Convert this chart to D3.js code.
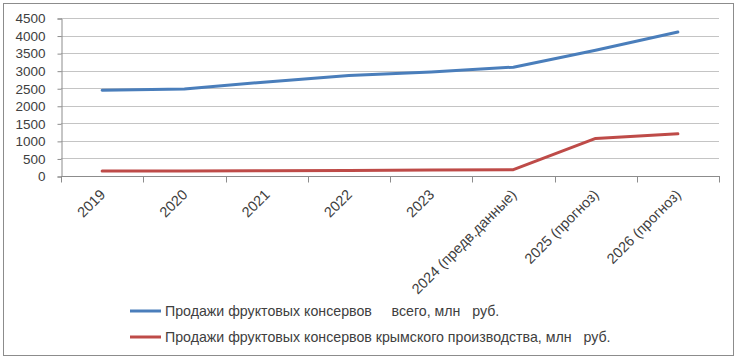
<!DOCTYPE html>
<html>
<head>
<meta charset="utf-8">
<script src="https://cdn.jsdelivr.net/npm/d3@7"></script>
<style>
  body { margin: 0; background: #fff; }
  text { font-family: "Liberation Sans", Arial, sans-serif; fill: #404040; }
</style>
</head>
<body>
<div id="chart"></div>
<script>
// categories and series
const years = ['2019', '2020', '2021', '2022', '2023', '2024 (предв.данные)', '2025 (прогноз)', '2026 (прогноз)']
const salesTotal = [2440, 2480, 2680, 2860, 2960, 3100, 3580, 4100]
const salesCrimea = [140, 140, 150, 160, 170, 180, 1070, 1200]
const yTicks = [0, 500, 1000, 1500, 2000, 2500, 3000, 3500, 4000, 4500]
const legendLabels = [
    'Продажи фруктовых консервов     всего, млн   руб.',
    'Продажи фруктовых консервов крымского производства, млн   руб.'
]
const colors = ['#4a7ebb', '#be4b48']

const width = 738
const height = 359
const plot = { left: 61, right: 719, top: 18, bottom: 176 }

const svg = d3.create('svg')
    .attr('width', width)
    .attr('height', height)

/* outer frame */
svg.append('rect')
    .attr('x', 3.5).attr('y', 3.5)
    .attr('width', 730).attr('height', 352)
    .attr('fill', '#fff')
    .attr('stroke', '#8c8c8c')

const x = d3.scaleBand()
    .domain(years)
    .range([plot.left, plot.right])

const y = d3.scaleLinear()
    .domain([0, 4500])
    .range([plot.bottom, plot.top])

/* gridlines */
svg.append('g')
    .selectAll('line')
    .data(yTicks.filter(d => d > 0))
    .join('line')
    .attr('x1', plot.left).attr('x2', plot.right)
    .attr('y1', d => Math.round(y(d)) + 0.5)
    .attr('y2', d => Math.round(y(d)) + 0.5)
    .attr('stroke', '#c4c4c4')

/* y axis */
const yAxis = svg.append('g')
    .attr('transform', `translate(${plot.left + 0.5},0.5)`)
    .call(d3.axisLeft(y).tickValues(yTicks).tickFormat(d3.format('d')).tickSize(4).tickPadding(12))
yAxis.select('.domain').attr('stroke', '#8c8c8c')
yAxis.selectAll('.tick line').attr('stroke', '#8c8c8c')
yAxis.selectAll('.tick text')
    .attr('font-size', 13.5)
    .attr('fill', '#404040')
    .style('font-family', '"Liberation Sans", Arial, sans-serif')

/* x axis: ticks sit on band boundaries */
const xAxisG = svg.append('g')
    .attr('transform', `translate(0,${plot.bottom + 0.5})`)
xAxisG.append('line')
    .attr('x1', plot.left).attr('x2', plot.right + 1)
    .attr('stroke', '#8c8c8c')
xAxisG.selectAll('.xtick')
    .data(years.concat(['end']))
    .join('line')
    .attr('class', 'xtick')
    .attr('x1', (d, i) => Math.round(plot.left + i * x.step()) + 0.5)
    .attr('x2', (d, i) => Math.round(plot.left + i * x.step()) + 0.5)
    .attr('y1', 0).attr('y2', 6)
    .attr('stroke', '#8c8c8c')
xAxisG.selectAll('.xlabel')
    .data(years)
    .join('text')
    .attr('class', 'xlabel')
    .attr('text-anchor', 'end')
    .attr('font-size', 14.5)
    .attr('transform', d => `translate(${x(d) + x.bandwidth() / 2 + 4},${19}) rotate(-45)`)
    .text(d => d)

/* lines */
const line = d3.line()
    .x((d, i) => x(years[i]) + x.bandwidth() / 2)
    .y(d => y(d))

svg.append('g')
    .selectAll('path')
    .data([salesTotal, salesCrimea])
    .join('path')
    .attr('fill', 'none')
    .attr('stroke', (d, i) => colors[i])
    .attr('stroke-width', 3)
    .attr('stroke-linejoin', 'round')
    .attr('stroke-linecap', 'round')
    .attr('d', line)

/* legend */
const legend = svg.append('g')
    .selectAll('g')
    .data(legendLabels)
    .join('g')
    .attr('transform', (d, i) => `translate(130,${311 + i * 26})`)
legend.append('line')
    .attr('x1', 0).attr('x2', 31)
    .attr('stroke', (d, i) => colors[i])
    .attr('stroke-width', 3)
legend.append('text')
    .attr('x', 35)
    .attr('dy', '0.35em')
    .attr('font-size', 14.2)
    .style('white-space', 'pre')
    .text(d => d)

document.getElementById('chart').appendChild(svg.node())
</script>
</body>
</html>
